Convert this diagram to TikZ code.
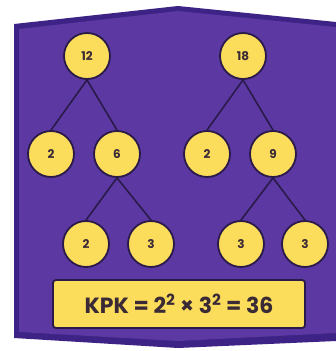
\documentclass[tikz,border=0pt]{standalone}
\usepackage{fontspec}
\setmainfont{Poppins}
\definecolor{bgdark}{HTML}{3E2386}
\definecolor{bgmain}{HTML}{5C39A2}
\definecolor{ylw}{HTML}{FCDC5B}
\definecolor{ink}{HTML}{2A1A4A}
\definecolor{txt}{HTML}{3A2A36}
\begin{document}
\begin{tikzpicture}[x=1pt,y=-1pt,
  num/.style={circle,draw=ink,line width=1.8pt,fill=ylw,minimum size=46pt,inner sep=0pt,
    font=\bfseries\fontsize{12}{12}\selectfont,text=txt},
  link/.style={draw=ink,line width=1.6pt}]
\useasboundingbox (0,0) rectangle (336,351);
\fill[white] (0,0) rectangle (336,351);
\fill[bgdark] (14,24) -- (178,6) -- (336,22) -- (336,341) -- (178,348) -- (14,338) -- cycle;
\fill[bgmain] (19,29) -- (178,11) -- (336,27) -- (336,333) -- (178,341) -- (19,332) -- cycle;
% nodes
\node[num] (a) at (87,56) {12};
\node[num] (b) at (243,56) {18};
\node[num] (a1) at (51,154) {2};
\node[num] (a2) at (117,154) {6};
\node[num] (b1) at (207,154) {2};
\node[num] (b2) at (273,154) {9};
\node[num] (a21) at (86,244) {2};
\node[num] (a22) at (151,244) {3};
\node[num] (b21) at (241,244) {3};
\node[num] (b22) at (305,244) {3};
% links
\begin{scope}[on background layer/.style={}]
\end{scope}
\path[link] (a.south) -- (a1.north);
\path[link] (a.south) -- (a2.north);
\path[link] (b.south) -- (b1.north);
\path[link] (b.south) -- (b2.north);
\path[link] (a2.south) -- (a21.north);
\path[link] (a2.south) -- (a22.north);
\path[link] (b2.south) -- (b21.north);
\path[link] (b2.south) -- (b22.north);
% result box
\node[draw=ink,line width=1.8pt,fill=ylw,rounded corners=3pt,minimum width=252pt,minimum height=48pt,
  text=txt,font=\bfseries\fontsize{22}{22}\selectfont] (res) at (179,304)
  {KPK = 2\textsuperscript{2} × 3\textsuperscript{2} = 36};
\end{tikzpicture}
\end{document}
